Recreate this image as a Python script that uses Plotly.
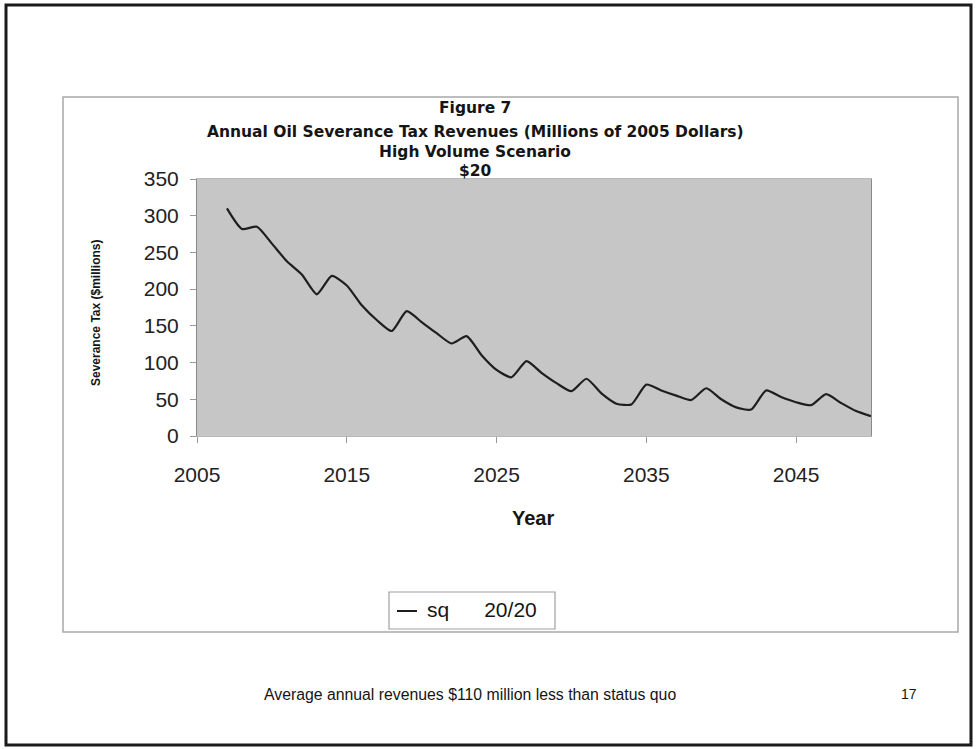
import plotly.graph_objects as go

# data ($millions, 2005 dollars)
years = list(range(2007, 2051))
revenue = [310, 282, 285, 262, 238, 220, 193, 218, 205, 178,
           158, 143, 170, 155, 140, 126, 136, 110, 90, 80,
           102, 86, 72, 61, 78, 58, 44, 43, 70, 62,
           55, 49, 65, 50, 39, 36, 62, 53, 46, 42,
           57, 45, 34, 27]
x_ticks = [2005, 2015, 2025, 2035, 2045]
y_ticks = [0, 50, 100, 150, 200, 250, 300, 350]
title_lines = ["Figure 7",
               "Annual Oil Severance Tax Revenues (Millions of 2005 Dollars)",
               "High Volume Scenario",
               "$20"]
series_name = "sq\u00a0\u00a0\u00a0\u00a0\u00a0\u00a020/20"
note = "Average annual revenues $110 million less than status quo"
page_no = "17"

W, H = 977, 749
FONT = "Liberation Sans, Arial, sans-serif"
TITLE_FONT = "DejaVu Sans, Liberation Sans, sans-serif"


def px(x):
    return x / W


def py(y):
    return 1 - y / H


def label(text, x, y, size, family=FONT, **kw):
    # paper-anchored text, centred on (x, y) given in page pixels
    opts = dict(xanchor="center", yanchor="middle")
    opts.update(kw)
    fig.add_annotation(text=text, x=px(x), y=py(y), xref="paper", yref="paper",
                       showarrow=False, font=dict(size=size, color="#151515", family=family),
                       **opts)


fig = go.Figure()
fig.add_trace(go.Scatter(x=years, y=revenue, mode="lines", name=series_name,
                         line=dict(color="#1e1e1e", width=2.2, shape="spline", smoothing=0.6),
                         showlegend=False, hoverinfo="x+y"))

fig.update_layout(
    width=W, height=H, autosize=False,
    margin=dict(l=0, r=0, t=0, b=0, pad=0),
    paper_bgcolor="white", plot_bgcolor="#c6c6c6",
    font=dict(family=FONT, color="#222"),
    showlegend=False,
    xaxis=dict(domain=[px(197), px(871)], range=[2005, 2050], automargin=False,
               tickvals=x_ticks, ticks="outside", ticklen=6, tickcolor="#999",
               ticklabelstandoff=14,
               showgrid=False, zeroline=False, showline=True, linecolor="#b8b8b8",
               mirror=True, tickfont=dict(size=21, color="#222")),
    yaxis=dict(domain=[py(436), py(179)], range=[0, 350], automargin=False,
               tickvals=y_ticks, ticks="outside", ticklen=6, tickcolor="#999",
               ticklabelstandoff=7,
               showgrid=False, zeroline=False, showline=True, linecolor="#8a8a8a",
               mirror=True, tickfont=dict(size=21, color="#222")),
)

# titles
for txt, yy in zip(title_lines, [108, 132, 152, 171]):
    label("<b>%s</b>" % txt, 475, yy, 15.5, family=TITLE_FONT)

# axis titles
label("<b>Year</b>", 533, 518, 20)
label("<b>Severance Tax ($millions)</b>", 96, 313, 12, textangle=-90)

# page and chart frames
fig.add_shape(type="rect", xref="paper", yref="paper",
              x0=px(6), x1=px(971), y0=py(745), y1=py(5),
              line=dict(color="#1a1a1a", width=3))
fig.add_shape(type="rect", xref="paper", yref="paper",
              x0=px(63), x1=px(958), y0=py(632), y1=py(97),
              line=dict(color="#a8a8a8", width=1.5))

# hand made legend box
fig.add_shape(type="rect", xref="paper", yref="paper",
              x0=px(389), x1=px(555), y0=py(629), y1=py(592),
              line=dict(color="#a0a0a0", width=1.2), fillcolor="white")
fig.add_shape(type="line", xref="paper", yref="paper",
              x0=px(397), x1=px(417), y0=py(611), y1=py(611),
              line=dict(color="#1e1e1e", width=2))
label(series_name, 425, 609, 21, xanchor="left")

# footer
label(note, 470, 694, 15.8)
label(page_no, 909, 694, 14)

fig.write_html("out.html", config={"displayModeBar": False},
               post_script="document.body.style.margin = '0';")
